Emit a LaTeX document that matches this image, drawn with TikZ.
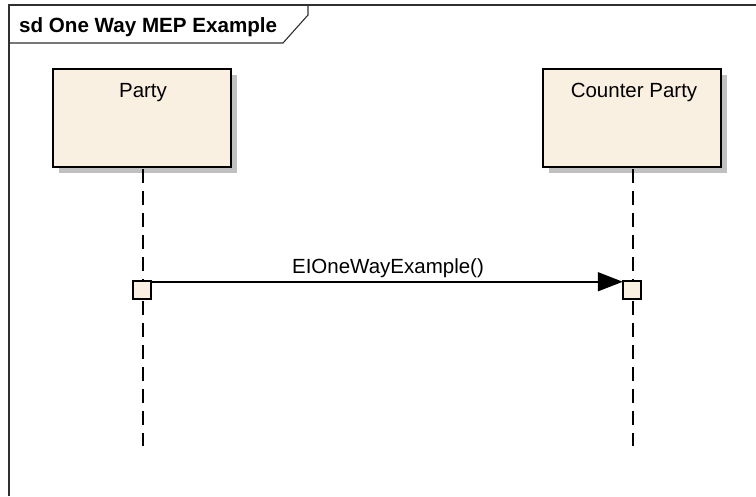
\documentclass[tikz,border=0pt]{standalone}
\usepackage{fontspec}
\setmainfont{Liberation Sans}
\usetikzlibrary{arrows.meta}
\definecolor{boxfill}{HTML}{FAF0E2}
\definecolor{shadowgray}{HTML}{C0C0C0}
\definecolor{framegray}{HTML}{303030}
\begin{document}
\begin{tikzpicture}[x=1pt,y=-1pt,
  actorbox/.style={draw=black, line width=1.8pt, fill=boxfill, minimum width=178pt, minimum height=98pt, inner sep=0pt, outer sep=0pt},
  shadowbox/.style={fill=shadowgray, minimum width=178pt, minimum height=98pt, inner sep=0pt, outer sep=0pt},
  actbox/.style={draw=black, line width=1.6pt, fill=boxfill, minimum width=18.5pt, minimum height=18.5pt, inner sep=0pt, outer sep=0pt},
  lifeline/.style={line width=1.8pt, dash pattern=on 14pt off 8pt},
  txt/.style={font=\fontsize{20.5}{24}\selectfont, inner sep=0pt},
  titletxt/.style={font=\fontsize{20.6}{24}\selectfont\bfseries, inner sep=0pt},
  msg/.style={line width=1.8pt, -{Triangle[length=25pt,width=19pt]}},
  framel/.style={draw=framegray, line width=1.1pt}
]
\useasboundingbox (0,0) rectangle (756,496);
% frame
\draw[framel] (9,496) -- (9,5) -- (756,5);
\draw[framel] (9,43) -- (283,43) -- (308,15) -- (308,5);
\node[titletxt, anchor=base west] (title) at (19,32) {sd One Way MEP Example};
% shadows
\node[shadowbox] (partysh) at (148,124) {};
\node[shadowbox] (countersh) at (638,124) {};
% actor boxes
\node[actorbox] (party) at (142,118) {};
\node[actorbox] (counter) at (632,118) {};
\node[txt, anchor=base] (partylbl) at (143,97) {Party};
\node[txt, anchor=base] (counterlbl) at (634,97) {Counter Party};
% lifelines
\coordinate (pend) at (143,446);
\coordinate (cend) at (633,446);
\draw[lifeline] ([xshift=1pt,yshift=-2pt]party.south) -- (pend);
\draw[lifeline] ([xshift=1pt,yshift=-2pt]counter.south) -- (cend);
% activations
\node[actbox] (pact) at (142,290) {};
\node[actbox] (cact) at (632,290) {};
% message
\draw[msg] ([yshift=-1pt]pact.north east) -- ([yshift=-1pt]cact.north west);
\node[txt, anchor=base] (msglbl) at (388,273) {EIOneWayExample()};
\end{tikzpicture}
\end{document}
